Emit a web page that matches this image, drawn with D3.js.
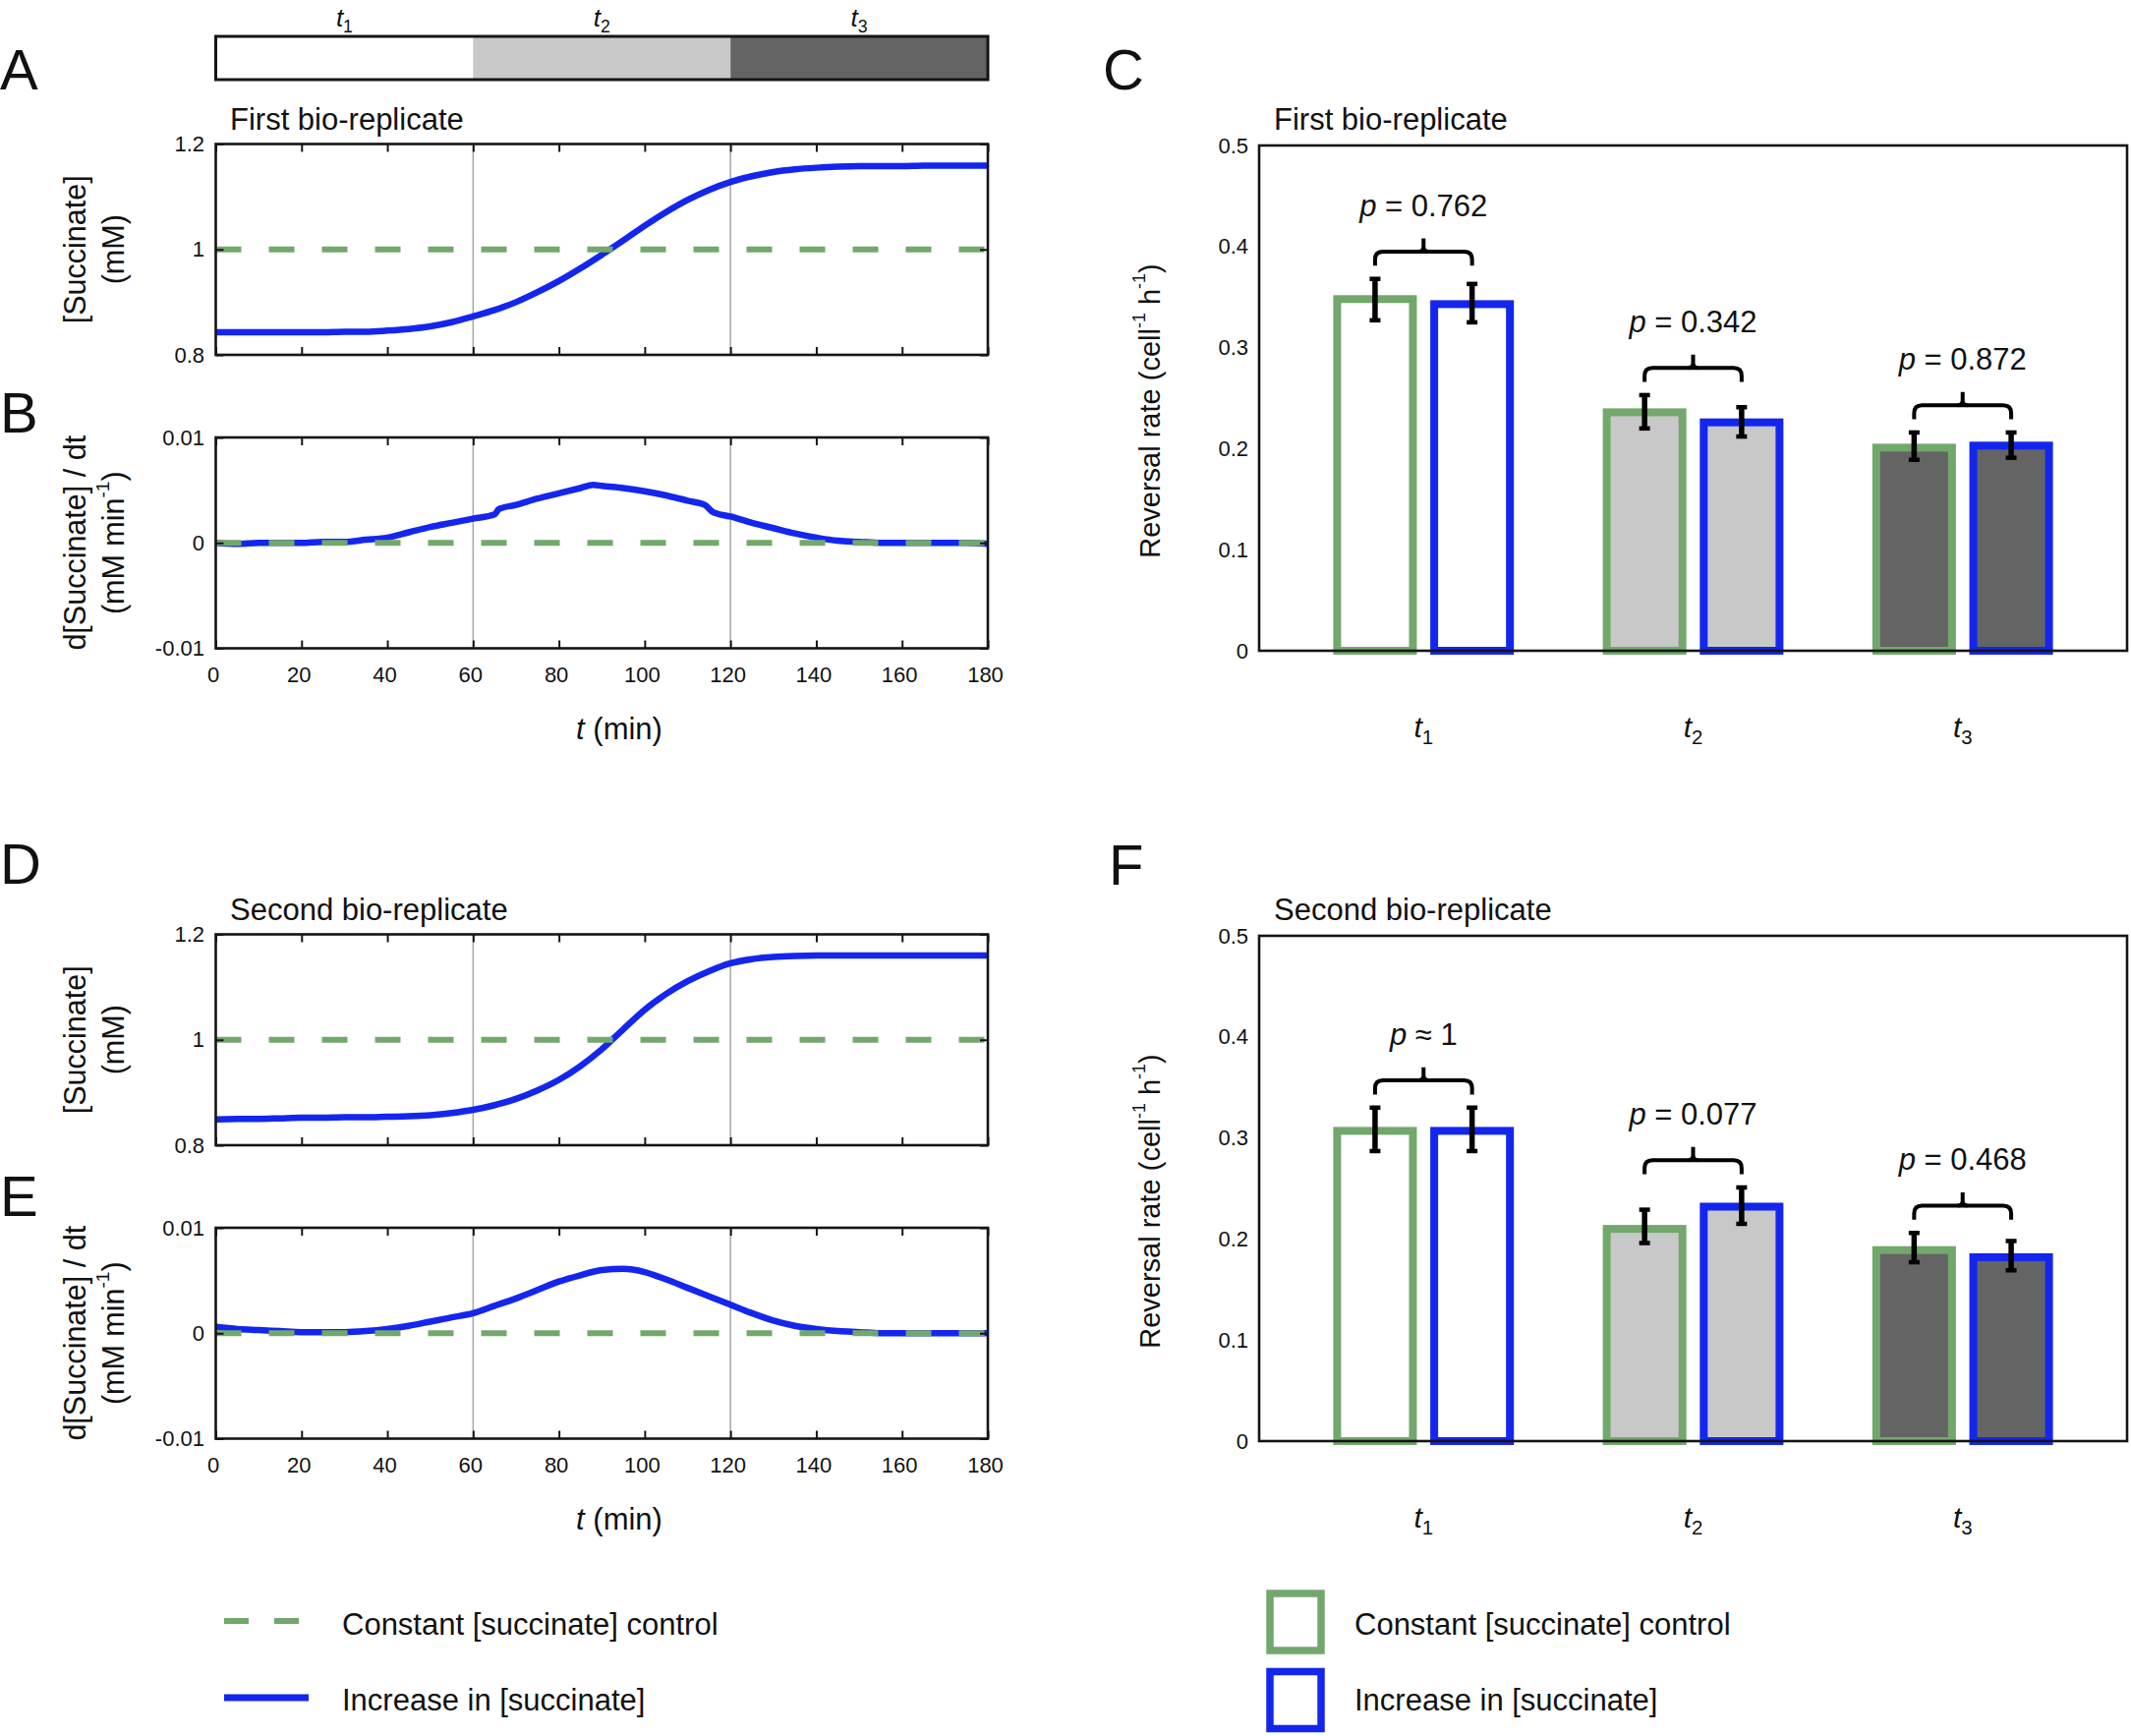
<!DOCTYPE html>
<html><head><meta charset="utf-8">
<script src="https://cdn.jsdelivr.net/npm/d3@7/dist/d3.min.js"></script>
<style>
body{margin:0;background:#fff}
svg{display:block;background:#fff}
text{font-family:"Liberation Sans",Arial,Helvetica,sans-serif;fill:#111}
</style>
</head><body>
<svg id="fig" width="2168" height="1766"></svg>
<script>
// ---------------- DATA ----------------
const periods = ["1", "2", "3"];                 // t1, t2, t3 subscripts
const periodBounds = [0, 60, 120, 180];           // minutes
const timeTicks = [0, 20, 40, 60, 80, 100, 120, 140, 160, 180];
const concTicks = [0.8, 1, 1.2];
const concTickLabels = ["0.8", "1", "1.2"];
const rateTicks = [-0.01, 0, 0.01];
const rateTickLabels = ["-0.01", "0", "0.01"];
const barTicks = [0, 0.1, 0.2, 0.3, 0.4, 0.5];
const barTickLabels = ["0", "0.1", "0.2", "0.3", "0.4", "0.5"];

const controlConc = 1.0;
const controlRate = 0.0;

const timeA = [0,5,10,15,20,25,30,35,40,45,50,55,60,65,70,75,80,85,90,95,100,105,110,115,120,125,130,135,140,145,150,155,160,165,170,175,180];
const concRep1 = [0.843,0.843,0.843,0.843,0.843,0.843,0.844,0.844,0.846,0.849,0.854,0.862,0.873,0.885,0.900,0.919,0.940,0.964,0.990,1.017,1.045,1.071,1.094,1.113,1.128,1.139,1.147,1.152,1.155,1.157,1.158,1.158,1.158,1.159,1.159,1.159,1.159];

const timeB = [0,5,10,15,20,25,30,35,40,45,50,55,60,65,66,70,75,80,85,88,90,95,100,105,110,114,116,120,125,130,135,140,145,150,155,160,165,170,175,180];
const rateRep1 = [0,-0.0001,0,0,0,0.0001,0.0001,0.0003,0.0005,0.0010,0.0015,0.0019,0.0023,0.0027,0.0032,0.0036,0.0042,0.0047,0.0052,0.0055,0.0054,0.0052,0.0049,0.0045,0.0040,0.0036,0.0029,0.0025,0.0019,0.0014,0.0009,0.0005,0.0002,0.0001,0,0,0,0,0,-0.0001];

const concRep2 = [0.849,0.850,0.850,0.851,0.852,0.852,0.853,0.853,0.854,0.855,0.857,0.861,0.867,0.876,0.888,0.904,0.924,0.950,0.982,1.020,1.057,1.087,1.111,1.130,1.145,1.153,1.157,1.159,1.160,1.160,1.160,1.160,1.160,1.160,1.160,1.160,1.160];
const rateRep2 = [0.0006,0.0004,0.0003,0.0002,0.0001,0.0001,0.0001,0.0002,0.0004,0.0007,0.0011,0.0015,0.0019,0.0026,0.0033,0.0041,0.0049,0.0055,0.0060,0.0061,0.0058,0.0051,0.0043,0.0035,0.0027,0.0019,0.0012,0.0007,0.0004,0.0002,0.0001,0,0,0,0,0,0];

// Reversal rates (cell^-1 h^-1), per period t1..t3
const rep1Control   = [0.348, 0.236, 0.201];
const rep1ControlLo = [0.327, 0.220, 0.189];
const rep1ControlHi = [0.368, 0.253, 0.216];
const rep1Increase   = [0.343, 0.226, 0.203];
const rep1IncreaseLo = [0.325, 0.212, 0.191];
const rep1IncreaseHi = [0.363, 0.241, 0.216];
const rep1PRel = ["=", "=", "="];
const rep1PVal = ["0.762", "0.342", "0.872"];

const rep2Control   = [0.307, 0.210, 0.189];
const rep2ControlLo = [0.287, 0.196, 0.177];
const rep2ControlHi = [0.330, 0.229, 0.206];
const rep2Increase   = [0.307, 0.232, 0.182];
const rep2IncreaseLo = [0.287, 0.215, 0.169];
const rep2IncreaseHi = [0.330, 0.251, 0.198];
const rep2PRel = ["\u2248", "=", "="];
const rep2PVal = ["1", "0.077", "0.468"];

const legendLabels = ["Constant [succinate] control", "Increase in [succinate]"];

// ---------------- STYLE ----------------
const GREEN = "#73a86c", BLUE = "#1426ee", AXC = "#151515";
const periodFill = ["#ffffff", "#c8c8c8", "#646464"];
const FS_TICK = 22, FS_TITLE = 31, FS_LAB = 30.5;
const svg = d3.select("#fig");
svg.append("rect").attr("width", 2168).attr("height", 1766).attr("fill", "#fff");

function panelLetter(txt, x, y) {
  svg.append("text").attr("x", x).attr("y", y).attr("font-size", 58).text(txt);
}
function tLabel(g, x, y, sub, size) {
  const t = g.append("text").attr("x", x).attr("y", y).attr("text-anchor", "middle").attr("font-size", size);
  t.append("tspan").attr("font-style", "italic").text("t");
  t.append("tspan").attr("font-size", size * 0.68).attr("dy", size * 0.24).text(sub);
}

// ---------------- TIME PANELS ----------------
const X0 = 219.5, X1 = 1005;
const xT = d3.scaleLinear().domain([0, 180]).range([X0, X1]);

function timePanel(top, yDomain, yTicks, yTickLabels, tArr, vArr, ctrl, ylab1, ylab2, showX) {
  const H = 214.5;
  const y = d3.scaleLinear().domain(yDomain).range([top + H, top]);
  const g = svg.append("g");
  g.selectAll("line.sep").data(periodBounds.slice(1, 3)).enter().append("line")
    .attr("x1", d => xT(d)).attr("x2", d => xT(d)).attr("y1", top).attr("y2", top + H)
    .attr("stroke", "#aaaaaa").attr("stroke-width", 1.6);
  g.append("path").datum(tArr.map((t, i) => [t, vArr[i]]))
    .attr("d", d3.line().x(d => xT(d[0])).y(d => y(d[1])).curve(d3.curveMonotoneX))
    .attr("fill", "none").attr("stroke", BLUE).attr("stroke-width", 6.5).attr("stroke-linejoin", "round");
  g.append("line").attr("x1", xT(0)).attr("x2", xT(180)).attr("y1", y(ctrl)).attr("y2", y(ctrl))
    .attr("stroke", GREEN).attr("stroke-width", 6).attr("stroke-dasharray", "26,28");
  const ab = g.append("g").attr("transform", `translate(0,${top + H})`)
    .call(d3.axisBottom(xT).tickValues(timeTicks).tickSizeInner(-8).tickSizeOuter(0).tickPadding(18.5)
      .tickFormat(showX ? (d => String(d)) : () => ""));
  const at = g.append("g").attr("transform", `translate(0,${top})`)
    .call(d3.axisTop(xT).tickValues(timeTicks).tickSizeInner(-8).tickSizeOuter(0).tickFormat(() => ""));
  const al = g.append("g").attr("transform", `translate(${X0},0)`)
    .call(d3.axisLeft(y).tickValues(yTicks).tickSizeInner(-8).tickSizeOuter(0).tickPadding(11.5)
      .tickFormat((d, i) => yTickLabels[i]));
  const ar = g.append("g").attr("transform", `translate(${X1},0)`)
    .call(d3.axisRight(y).tickValues(yTicks).tickSizeInner(-8).tickSizeOuter(0).tickFormat(() => ""));
  [ab, at, al, ar].forEach(a => {
    a.select(".domain").remove();
    a.selectAll(".tick line").attr("stroke", AXC).attr("stroke-width", 2);
    a.selectAll(".tick text").attr("font-size", FS_TICK).attr("fill", "#111")
      .attr("font-family", '"Liberation Sans",Arial,sans-serif');
  });
  ab.selectAll(".tick text").attr("dx", -3);
  g.append("rect").attr("x", X0).attr("y", top).attr("width", X1 - X0).attr("height", H)
    .attr("fill", "none").attr("stroke", AXC).attr("stroke-width", 2.6);
  const cy = top + H / 2;
  const l1 = g.append("text").attr("transform", `translate(76,${cy}) rotate(-90)`)
    .attr("text-anchor", "middle").attr("dominant-baseline", "central").attr("font-size", FS_LAB);
  ylab1(l1);
  const l2 = g.append("text").attr("transform", `translate(115,${cy}) rotate(-90)`)
    .attr("text-anchor", "middle").attr("dominant-baseline", "central").attr("font-size", FS_LAB);
  ylab2(l2);
  if (showX) {
    const tx = g.append("text").attr("x", 630).attr("y", top + H + 92).attr("text-anchor", "middle").attr("font-size", 31);
    tx.append("tspan").attr("font-style", "italic").text("t");
    tx.append("tspan").text(" (min)");
  }
}
const concL1 = t => t.text("[Succinate]");
const concL2 = t => t.text("(mM)");
const rateL1 = t => t.text("d[Succinate] / dt");
const rateL2 = t => {
  t.append("tspan").text("(mM min");
  t.append("tspan").attr("font-size", 19).attr("dy", -11).text("-1");
  t.append("tspan").attr("dy", 11).text(")");
};

// top period bar
(function () {
  const g = svg.append("g");
  g.selectAll("rect.p").data(periods).enter().append("rect")
    .attr("x", (d, i) => xT(periodBounds[i])).attr("width", (d, i) => xT(periodBounds[i + 1]) - xT(periodBounds[i]))
    .attr("y", 37).attr("height", 44).attr("fill", (d, i) => periodFill[i]);
  g.append("rect").attr("x", xT(0)).attr("y", 37).attr("width", xT(180) - xT(0)).attr("height", 44)
    .attr("fill", "none").attr("stroke", AXC).attr("stroke-width", 3);
  periods.forEach((p, i) => tLabel(g, xT((periodBounds[i] + periodBounds[i + 1]) / 2), 27, p, 26));
})();

const OFF = 804;
svg.append("text").attr("x", 234).attr("y", 132).attr("font-size", FS_TITLE).text("First bio-replicate");
svg.append("text").attr("x", 234).attr("y", 132 + OFF).attr("font-size", FS_TITLE).text("Second bio-replicate");
timePanel(146.5, [0.8, 1.2], concTicks, concTickLabels, timeA, concRep1, controlConc, concL1, concL2, false);
timePanel(445, [-0.01, 0.01], rateTicks, rateTickLabels, timeB, rateRep1, controlRate, rateL1, rateL2, true);
timePanel(146.5 + OFF, [0.8, 1.2], concTicks, concTickLabels, timeA, concRep2, controlConc, concL1, concL2, false);
timePanel(445 + OFF, [-0.01, 0.01], rateTicks, rateTickLabels, timeA, rateRep2, controlRate, rateL1, rateL2, true);

// ---------------- BAR PANELS ----------------
const BX0 = 1281, BX1 = 2164;
const xB = d3.scaleLinear().domain([0.39, 3.61]).range([BX0, BX1]);
const BAR_OFF = 0.18, BAR_W = 0.281;

function barPanel(top, title, ctrl, cLo, cHi, inc, iLo, iHi, pRel, pVal) {
  const H = 514;
  const y = d3.scaleLinear().domain([0, 0.5]).range([top + H, top]);
  const g = svg.append("g");
  svg.append("text").attr("x", 1296).attr("y", top - 16).attr("font-size", FS_TITLE).text(title);
  const series = [
    { v: ctrl, lo: cLo, hi: cHi, off: -BAR_OFF, col: GREEN },
    { v: inc, lo: iLo, hi: iHi, off: BAR_OFF, col: BLUE }
  ];
  series.forEach(s => {
    g.selectAll(null).data(s.v).enter().append("rect")
      .attr("x", (d, i) => xB(i + 1 + s.off - BAR_W / 2))
      .attr("width", xB(BAR_W) - xB(0))
      .attr("y", d => y(d)).attr("height", d => y(0) - y(d))
      .attr("fill", (d, i) => periodFill[i]).attr("stroke", s.col).attr("stroke-width", 8);
  });
  const al = g.append("g").attr("transform", `translate(${BX0},0)`)
    .call(d3.axisLeft(y).tickValues(barTicks).tickSize(0).tickPadding(11).tickFormat((d, i) => barTickLabels[i]));
  al.select(".domain").remove();
  al.selectAll(".tick text").attr("font-size", FS_TICK).attr("fill", "#111").attr("font-family", '"Liberation Sans",Arial,sans-serif');
  g.append("rect").attr("x", BX0).attr("y", top).attr("width", BX1 - BX0).attr("height", H)
    .attr("fill", "none").attr("stroke", AXC).attr("stroke-width", 2.6);
  series.forEach(s => {
    s.v.forEach((d, i) => {
      const cx = xB(i + 1 + s.off);
      g.append("line").attr("x1", cx).attr("x2", cx).attr("y1", y(s.lo[i])).attr("y2", y(s.hi[i]))
        .attr("stroke", "#000").attr("stroke-width", 5.5);
      [s.lo[i], s.hi[i]].forEach(e => g.append("line").attr("x1", cx - 5.5).attr("x2", cx + 5.5)
        .attr("y1", y(e)).attr("y2", y(e)).attr("stroke", "#000").attr("stroke-width", 4.5));
    });
  });
  periods.forEach((p, i) => {
    const xl = xB(i + 1 - BAR_OFF), xr = xB(i + 1 + BAR_OFF), xm = (xl + xr) / 2;
    const hiMax = Math.max(cHi[i], iHi[i]);
    const yb = y(hiMax + 0.027), yl = y(hiMax + 0.013), yt = y(hiMax + 0.040);
    const r = 8;
    g.append("path").attr("d",
      `M${xl},${yl} L${xl},${yb + r} Q${xl},${yb} ${xl + r},${yb} L${xr - r},${yb} Q${xr},${yb} ${xr},${yb + r} L${xr},${yl}`)
      .attr("fill", "none").attr("stroke", "#000").attr("stroke-width", 4);
    g.append("path").attr("d", `M${xm - 5},${yb} Q${xm},${yb} ${xm},${yb - 5} L${xm},${yt} M${xm + 5},${yb} Q${xm},${yb} ${xm},${yb - 5}`)
      .attr("fill", "none").attr("stroke", "#000").attr("stroke-width", 4);
    const tx = g.append("text").attr("x", xm).attr("y", y(hiMax + 0.066) + 4).attr("text-anchor", "middle").attr("font-size", 31);
    tx.append("tspan").attr("font-style", "italic").text("p");
    tx.append("tspan").text(" " + pRel[i] + " " + pVal[i]);
    tLabel(g, xB(i + 1), top + H + 88, p, 30);
  });
  const yl = g.append("text").attr("transform", `translate(1170,${top + H / 2 + 13}) rotate(-90)`)
    .attr("text-anchor", "middle").attr("dominant-baseline", "central").attr("font-size", 29);
  yl.append("tspan").text("Reversal rate (cell");
  yl.append("tspan").attr("font-size", 18).attr("dy", -11).text("-1");
  yl.append("tspan").attr("dy", 11).text(" h");
  yl.append("tspan").attr("font-size", 18).attr("dy", -11).text("-1");
  yl.append("tspan").attr("dy", 11).text(")");
}
barPanel(148, "First bio-replicate", rep1Control, rep1ControlLo, rep1ControlHi, rep1Increase, rep1IncreaseLo, rep1IncreaseHi, rep1PRel, rep1PVal);
barPanel(148 + OFF, "Second bio-replicate", rep2Control, rep2ControlLo, rep2ControlHi, rep2Increase, rep2IncreaseLo, rep2IncreaseHi, rep2PRel, rep2PVal);

// ---------------- LETTERS ----------------
panelLetter("A", 0, 91);
panelLetter("B", 0, 440);
panelLetter("C", 1122, 91);
panelLetter("D", 0, 899);
panelLetter("E", 0, 1237);
panelLetter("F", 1128, 900);

// ---------------- LEGENDS ----------------
(function () {
  const g = svg.append("g");
  g.append("line").attr("x1", 228).attr("x2", 309).attr("y1", 1649).attr("y2", 1649)
    .attr("stroke", GREEN).attr("stroke-width", 6).attr("stroke-dasharray", "25,26");
  g.append("line").attr("x1", 228).attr("x2", 314).attr("y1", 1727).attr("y2", 1727)
    .attr("stroke", BLUE).attr("stroke-width", 7);
  g.append("text").attr("x", 348).attr("y", 1662.5).attr("font-size", FS_TITLE).text(legendLabels[0]);
  g.append("text").attr("x", 348).attr("y", 1740).attr("font-size", FS_TITLE).text(legendLabels[1]);
  g.append("rect").attr("x", 1292).attr("y", 1621).attr("width", 52).attr("height", 58)
    .attr("fill", "#fff").attr("stroke", GREEN).attr("stroke-width", 7.5);
  g.append("rect").attr("x", 1292).attr("y", 1700.5).attr("width", 52).attr("height", 58)
    .attr("fill", "#fff").attr("stroke", BLUE).attr("stroke-width", 7.5);
  g.append("text").attr("x", 1378).attr("y", 1662.5).attr("font-size", FS_TITLE).text(legendLabels[0]);
  g.append("text").attr("x", 1378).attr("y", 1740).attr("font-size", FS_TITLE).text(legendLabels[1]);
})();
</script>
</body></html>
